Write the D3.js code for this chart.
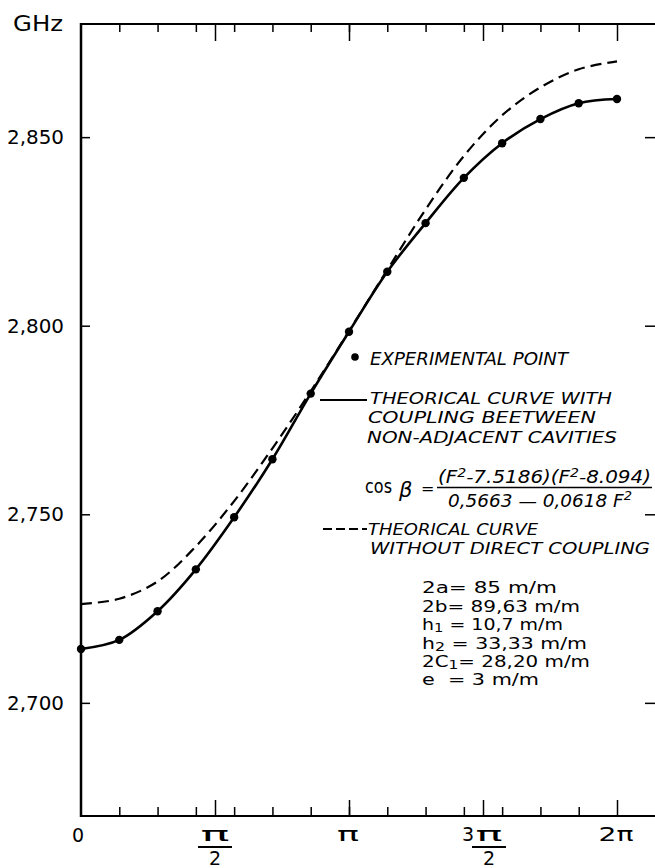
<!DOCTYPE html>
<html><head><meta charset="utf-8">
<script src="https://cdn.jsdelivr.net/npm/d3@7"></script>
<style>html,body{margin:0;padding:0;background:#fff;} svg{display:block;}</style>
</head><body>
<svg id="c" width="655" height="868"></svg>
<script>
const PI = Math.PI;
// phase steps k (phase = k·π/7) at which the points were measured
const phaseSteps = [0,1,2,3,4,5,6,7,8,9,10,11,12,13,14];
// experimental points / theoretical curve with non-adjacent coupling (GHz)
const measured = [2.7143,2.7167,2.7243,2.7354,2.7492,2.7646,2.7820,2.7984,2.8143,2.8272,2.8392,2.8484,2.8548,2.8590,2.8601];
// theoretical curve without direct coupling (GHz)
const noDirect = [2.7262,2.7276,2.7322,2.7415,2.7535,2.7675,2.7826,2.7986,2.8148,2.8308,2.8450,2.8558,2.8632,2.8680,2.8701];
const yTicks = [2.70, 2.75, 2.80, 2.85];
const yDomain = [2.670, 2.880];
const xMajorSteps = [3.5, 7, 10.5, 14]; // π/2, π, 3π/2, 2π in units of π/7
const xLabels = [
  {step:0, num:"0"},
  {step:3.5, num:"π", den:"2"},
  {step:7, num:"π"},
  {step:10.5, pre:"3", num:"π", den:"2"},
  {step:14, num:"2π"}
];
const legendSolid = ["THEORICAL CURVE  WITH","COUPLING  BEETWEEN","NON-ADJACENT CAVITIES"];
const legendDashed = ["THEORICAL CURVE","WITHOUT DIRECT COUPLING"];
const params = [
  {name:"2a", sub:"", val:"= 85 m/m"},
  {name:"2b", sub:"", val:"= 89,63 m/m"},
  {name:"h", sub:"1", val:" = 10,7 m/m"},
  {name:"h", sub:"2", val:" = 33,33 m/m"},
  {name:"2C", sub:"1", val:"= 28,20 m/m"},
  {name:"e", sub:"", val:"  = 3 m/m"}
];

const svg = d3.select("#c");
const FONT = "'DejaVu Sans', sans-serif";
const L = 81, R = 655, T = 24, B = 816;
const x = d3.scaleLinear().domain([0, 2*PI]).range([L, 617]);
const y = d3.scaleLinear().domain(yDomain).range([B, T]);
const ph = k => k*PI/7;

// frame
svg.append("line").attr("x1",L).attr("x2",R).attr("y1",T).attr("y2",T).attr("stroke","#000").attr("stroke-width",2);
svg.append("line").attr("x1",L).attr("x2",R).attr("y1",B).attr("y2",B).attr("stroke","#000").attr("stroke-width",2);
svg.append("line").attr("x1",L).attr("x2",L).attr("y1",T-1).attr("y2",B+1).attr("stroke","#000").attr("stroke-width",2.5);

const minorSteps = phaseSteps.filter(k => k>0 && k<14);
function xAxis(gen, vals, size, ty){
  const g = svg.append("g").attr("transform",`translate(0,${ty})`)
    .call(gen(x).tickValues(vals.map(ph)).tickSize(size).tickFormat(""));
  g.select(".domain").remove();
  g.selectAll(".tick line").attr("stroke","#000").attr("stroke-width",1.5);
}
xAxis(d3.axisBottom, minorSteps, -9, B);
xAxis(d3.axisBottom, xMajorSteps, -16, B);
xAxis(d3.axisTop, minorSteps, -8, T);
xAxis(d3.axisTop, xMajorSteps, -17, T);

// y axes
const fmt = v => d3.format(".3f")(v).replace(".", ",");
const gl = svg.append("g").attr("transform",`translate(${L},0)`)
  .call(d3.axisLeft(y).tickValues(yTicks).tickSize(-9).tickPadding(17).tickFormat(fmt));
gl.select(".domain").remove();
gl.selectAll(".tick line").attr("stroke","#000").attr("stroke-width",1.5);
gl.selectAll(".tick text").attr("font-family",FONT).attr("font-size",20).attr("fill","#000")
  .attr("textLength",57).attr("lengthAdjust","spacingAndGlyphs");
const gr = svg.append("g").attr("transform",`translate(${R},0)`)
  .call(d3.axisRight(y).tickValues(yTicks).tickSize(-10).tickFormat(""));
gr.select(".domain").remove();
gr.selectAll(".tick line").attr("stroke","#000").attr("stroke-width",1.5);

// unit
svg.append("text").attr("x",13).attr("y",31).attr("font-family",FONT).attr("font-size",21)
  .attr("textLength",50).attr("lengthAdjust","spacingAndGlyphs").text("GHz");

// x labels
xLabels.forEach(d => {
  const cx = x(ph(d.step));
  if (d.den) {
    const g = svg.append("g");
    const nx = d.pre ? cx+6 : cx;
    if (d.pre) g.append("text").attr("x",cx-9).attr("y",841).attr("text-anchor","end")
      .attr("font-family",FONT).attr("font-size",19).text(d.pre);
    g.append("text").attr("x",nx).attr("y",841).attr("text-anchor","middle").attr("font-family",FONT)
      .attr("font-size",20).attr("textLength",d.pre?27:29).attr("lengthAdjust","spacingAndGlyphs").text(d.num);
    g.append("line").attr("x1",nx-17).attr("x2",nx+17).attr("y1",847).attr("y2",847).attr("stroke","#000").attr("stroke-width",2);
    g.append("text").attr("x",nx).attr("y",865).attr("text-anchor","middle").attr("font-family",FONT)
      .attr("font-size",19).text(d.den);
  } else if (d.num === "0") {
    svg.append("text").attr("x",cx-3).attr("y",842).attr("text-anchor","middle").attr("font-family",FONT)
      .attr("font-size",19).text(d.num);
  } else {
    svg.append("text").attr("x",cx-1).attr("y",841).attr("text-anchor","middle").attr("font-family",FONT)
      .attr("font-size",20).attr("textLength",d.num.length>1?35:22).attr("lengthAdjust","spacingAndGlyphs").text(d.num);
  }
});

// curves
const solidData = phaseSteps.map((k,i)=>({p:ph(k), v:measured[i]}));
const dashData = phaseSteps.map((k,i)=>({p:ph(k), v:noDirect[i]}));
const line = d3.line().x(d=>x(d.p)).y(d=>y(d.v)).curve(d3.curveCatmullRom.alpha(0.5));
svg.append("path").attr("d",line(dashData)).attr("fill","none").attr("stroke","#000")
  .attr("stroke-width",2.2).attr("stroke-dasharray","11,6");
svg.append("path").attr("d",line(solidData)).attr("fill","none").attr("stroke","#000").attr("stroke-width",2.6);
svg.selectAll("circle.pt").data(solidData).enter().append("circle").attr("class","pt")
  .attr("cx",d=>x(d.p)).attr("cy",d=>y(d.v)).attr("r",4.2).attr("fill","#000");

// legend
const it = (sel)=>sel.attr("font-family",FONT).attr("font-style","italic").attr("fill","#000");
svg.append("circle").attr("cx",355).attr("cy",357).attr("r",3.8).attr("fill","#000");
it(svg.append("text")).attr("x",370).attr("y",365).attr("font-size",18).attr("textLength",198)
  .attr("lengthAdjust","spacingAndGlyphs").text("EXPERIMENTAL POINT");

svg.append("line").attr("x1",320).attr("x2",367).attr("y1",400).attr("y2",400).attr("stroke","#000").attr("stroke-width",2);
const solidPos = [{x:370,y:404,w:242},{x:368,y:423,w:228},{x:367,y:443,w:250}];
legendSolid.forEach((s,i)=>{
  it(svg.append("text")).attr("x",solidPos[i].x).attr("y",solidPos[i].y).attr("font-size",16.5)
    .attr("textLength",solidPos[i].w).attr("lengthAdjust","spacingAndGlyphs").text(s);
});

// formula
svg.append("text").attr("x",365).attr("y",493).attr("font-family",FONT).attr("font-size",19)
  .attr("textLength",27).attr("lengthAdjust","spacingAndGlyphs").text("cos");
it(svg.append("text")).attr("x",399).attr("y",497).attr("font-size",21).text("β");
svg.append("text").attr("x",421).attr("y",494).attr("font-family",FONT).attr("font-size",16).text("=");
const num = it(svg.append("text")).attr("x",438).attr("y",483).attr("font-size",17)
  .attr("textLength",213).attr("lengthAdjust","spacingAndGlyphs");
num.append("tspan").text("(F");
num.append("tspan").attr("dy",-6).attr("font-size",12).text("2");
num.append("tspan").attr("dy",6).text("-7.5186)(F");
num.append("tspan").attr("dy",-6).attr("font-size",12).text("2");
num.append("tspan").attr("dy",6).text("-8.094)");
svg.append("line").attr("x1",437).attr("x2",652).attr("y1",487.5).attr("y2",487.5).attr("stroke","#000").attr("stroke-width",1.5);
const den = it(svg.append("text")).attr("x",448).attr("y",507).attr("font-size",17)
  .attr("textLength",184).attr("lengthAdjust","spacingAndGlyphs");
den.append("tspan").text("0,5663 — 0,0618 F");
den.append("tspan").attr("dy",-7).attr("font-size",12).text("2");

// dashed legend
svg.append("line").attr("x1",323).attr("x2",367).attr("y1",529).attr("y2",529).attr("stroke","#000")
  .attr("stroke-width",2).attr("stroke-dasharray","9,4");
const dashPos = [{x:368,y:535,w:170},{x:370,y:554,w:280}];
legendDashed.forEach((s,i)=>{
  it(svg.append("text")).attr("x",dashPos[i].x).attr("y",dashPos[i].y).attr("font-size",15.5)
    .attr("textLength",dashPos[i].w).attr("lengthAdjust","spacingAndGlyphs").text(s);
});

// parameters
const pY = [593,612,630,649,667,685];
const pW = [135,158,141,165,168,117];
params.forEach((p,i)=>{
  const t = svg.append("text").attr("x",422).attr("y",pY[i]).attr("font-family",FONT).attr("font-size",15.5)
    .attr("textLength",pW[i]).attr("lengthAdjust","spacingAndGlyphs").style("white-space","pre");
  t.append("tspan").text(p.name);
  if (p.sub) { t.append("tspan").attr("dy",2).attr("font-size",12).text(p.sub); }
  t.append("tspan").attr("dy",p.sub?-2:0).text(p.val);
});
</script>
</body></html>
